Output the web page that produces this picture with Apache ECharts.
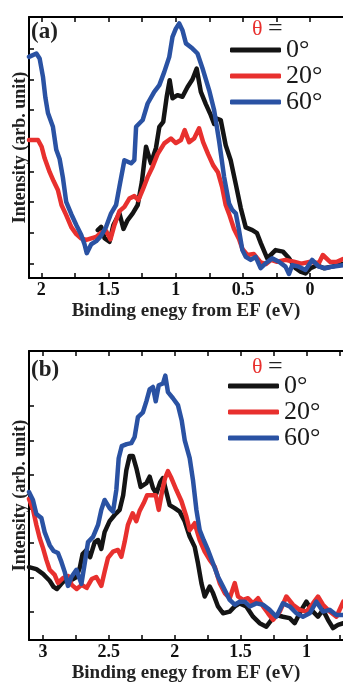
<!DOCTYPE html>
<html>
<head>
<meta charset="utf-8">
<script src="https://cdn.jsdelivr.net/npm/echarts@6/dist/echarts.min.js"></script>
<style>
html,body{margin:0;padding:0;background:#fff;}
#c{width:343px;height:684px;}
</style>
</head>
<body>
<div id="c"></div>
<script>
// ---------- DATA ----------
const seriesNames = ['0°', '20°', '60°'];

// panel (a): binding energy (eV) and intensity (arb. unit)
const aBlackE = [1.580,1.555,1.530,1.493,1.464,1.419,1.389,1.358,1.320,1.283,1.252,1.221,1.184,1.147,1.122,1.093,1.067,1.045,1.024,0.987,0.950,0.912,0.875,0.844,0.813,0.776,0.739,0.714,0.695,0.665,0.628,0.591,0.553,0.516,0.479,0.430,0.395,0.366,0.319,0.257,0.202,0.158,0.108,0.071,0.034,-0.003,-0.052,-0.102,-0.163,-0.245];
const aBlackI = [1.08,1.19,0.82,0.70,1.25,1.63,1.12,1.41,1.63,1.90,2.65,3.80,3.26,3.76,4.45,4.61,5.43,5.97,5.38,5.48,5.43,5.75,6.00,6.35,5.59,5.19,4.83,4.54,4.72,4.67,3.85,3.36,2.58,1.80,1.17,1.08,0.98,0.65,0.16,0.43,0.38,0.17,-0.16,-0.27,-0.33,-0.16,-0.06,-0.16,-0.11,-0.02];

const aRedE = [2.092,2.025,1.998,1.976,1.938,1.909,1.877,1.850,1.815,1.777,1.740,1.703,1.666,1.629,1.592,1.555,1.518,1.486,1.456,1.419,1.382,1.345,1.308,1.278,1.246,1.209,1.172,1.135,1.085,1.036,0.999,0.961,0.933,0.900,0.863,0.826,0.796,0.759,0.722,0.686,0.655,0.628,0.603,0.566,0.529,0.504,0.467,0.418,0.368,0.328,0.291,0.245,0.183,0.121,0.065,-0.003,-0.065,-0.095,-0.151,-0.200,-0.245];
const aRedI = [4.02,4.02,3.80,3.43,2.97,2.68,2.39,1.90,1.57,1.18,0.95,0.81,0.76,0.81,0.86,1.00,1.05,0.78,1.25,1.70,1.84,2.11,2.19,2.06,2.39,2.81,3.15,3.56,3.91,4.07,3.92,4.02,4.34,3.95,4.07,4.40,3.95,3.56,3.20,2.97,2.49,1.90,1.61,1.12,0.79,0.47,0.27,0.30,0.03,-0.02,0.11,0.05,0.11,0.05,-0.01,0.05,0.00,0.27,0.04,0.05,0.14];

const aBlueE = [2.092,2.037,2.013,1.988,1.970,1.951,1.914,1.889,1.864,1.840,1.815,1.777,1.740,1.703,1.679,1.662,1.629,1.592,1.555,1.518,1.481,1.444,1.419,1.382,1.332,1.308,1.295,1.246,1.209,1.160,1.122,1.085,1.048,1.024,0.999,0.974,0.950,0.924,0.875,0.838,0.801,0.751,0.714,0.677,0.640,0.603,0.579,0.553,0.529,0.504,0.479,0.442,0.405,0.368,0.331,0.282,0.232,0.183,0.157,0.133,0.084,0.034,-0.015,-0.065,-0.114,-0.163,-0.245];
const aBlueI = [6.73,6.84,6.68,6.08,5.40,4.90,4.45,3.70,3.40,2.80,2.00,1.60,1.25,0.92,0.62,0.33,0.62,0.72,0.90,1.19,1.63,1.90,2.50,3.36,3.26,3.36,4.45,4.67,5.21,5.59,5.81,6.24,6.73,7.38,7.65,7.82,7.60,7.17,7.00,6.84,6.36,5.64,4.99,3.98,2.82,1.95,1.74,1.63,1.08,0.43,0.21,0.11,0.21,-0.16,0.00,0.16,0.05,-0.11,-0.35,-0.06,-0.11,-0.22,0.11,-0.11,-0.16,-0.11,-0.06];

// panel (b)
const bBlackE = [3.106,3.050,3.000,2.949,2.919,2.894,2.860,2.822,2.784,2.746,2.721,2.699,2.670,2.642,2.607,2.582,2.557,2.532,2.494,2.456,2.418,2.391,2.367,2.342,2.317,2.291,2.258,2.215,2.190,2.165,2.139,2.110,2.089,2.063,2.038,2.000,1.962,1.924,1.886,1.848,1.823,1.797,1.772,1.734,1.709,1.671,1.633,1.582,1.544,1.506,1.456,1.405,1.355,1.304,1.265,1.228,1.178,1.127,1.089,1.038,1.000,0.962,0.912,0.874,0.836,0.798,0.760,0.720];
const bBlackI = [1.30,1.24,1.10,0.90,0.72,0.66,0.81,0.97,0.92,1.01,1.27,1.68,1.80,1.59,2.03,2.09,1.83,2.32,2.64,2.82,2.97,3.40,4.13,4.54,4.54,4.19,3.64,3.75,3.94,3.61,3.45,3.78,3.90,3.49,3.11,3.02,2.92,2.64,2.19,1.89,1.41,0.83,0.44,0.73,0.54,0.15,-0.05,0.00,0.15,0.24,0.15,-0.15,-0.34,-0.44,-0.24,-0.10,-0.15,-0.19,-0.34,0.05,0.29,0.05,-0.15,0.05,-0.24,-0.48,-0.39,-0.34];

const bRedE = [3.106,3.076,3.050,3.025,3.000,2.974,2.949,2.911,2.886,2.848,2.810,2.782,2.744,2.706,2.668,2.630,2.595,2.557,2.532,2.506,2.468,2.431,2.405,2.380,2.355,2.319,2.291,2.266,2.235,2.209,2.177,2.144,2.121,2.095,2.073,2.051,2.025,1.987,1.949,1.911,1.886,1.848,1.810,1.772,1.734,1.696,1.658,1.620,1.582,1.544,1.519,1.481,1.443,1.405,1.367,1.329,1.291,1.253,1.202,1.152,1.102,1.051,1.000,0.950,0.912,0.874,0.823,0.772,0.720];
const bRedI = [3.29,2.99,2.53,2.15,1.86,1.51,1.22,1.07,0.84,0.98,1.04,0.78,0.66,0.78,0.69,0.95,1.01,0.75,1.16,1.57,1.75,1.80,1.60,2.03,2.53,2.87,2.64,2.94,3.17,3.40,3.40,3.40,2.97,3.52,3.90,4.10,3.90,3.55,3.23,2.77,2.38,2.58,2.09,1.75,1.51,1.31,0.83,0.54,0.39,0.83,0.44,0.34,0.39,0.24,0.39,0.15,-0.05,-0.24,0.00,0.44,0.20,0.05,0.00,0.24,0.44,0.20,0.00,-0.15,0.29];

const bBlueE = [3.106,3.076,3.050,3.012,2.987,2.949,2.919,2.886,2.860,2.835,2.810,2.784,2.746,2.708,2.683,2.658,2.620,2.582,2.557,2.532,2.494,2.468,2.443,2.425,2.402,2.364,2.329,2.304,2.279,2.241,2.215,2.190,2.165,2.144,2.121,2.089,2.071,2.051,2.013,1.975,1.947,1.924,1.886,1.861,1.835,1.810,1.780,1.747,1.709,1.671,1.633,1.582,1.544,1.506,1.468,1.430,1.380,1.329,1.279,1.228,1.178,1.127,1.076,1.026,0.975,0.924,0.874,0.823,0.772,0.720];
const bBlueI = [3.49,3.26,2.85,2.73,2.32,1.94,1.77,1.71,1.45,1.16,0.75,1.01,1.22,0.81,1.41,2.03,2.18,2.53,2.97,3.26,3.02,2.92,3.55,4.48,4.83,4.89,4.92,5.10,5.68,5.82,6.14,6.49,6.56,6.14,6.61,6.66,6.89,6.41,6.23,6.03,5.59,5.01,4.48,3.84,2.97,2.38,2.09,1.80,1.41,1.02,0.73,0.34,0.20,0.29,0.29,0.15,0.24,0.20,0.05,-0.15,0.24,0.15,-0.05,-0.15,-0.05,0.29,0.00,0.05,-0.10,-0.10];

// axes
const aXRange = [-0.245, 2.092];
const bXRange = [0.722, 3.106];
const aYRange = [-0.48, 8.03];
const bYRange = [-0.83, 7.61];
const aXTicks = [0, 0.25, 0.5, 0.75, 1, 1.25, 1.5, 1.75, 2];
const aXLabels = [0, 0.5, 1, 1.5, 2];
const bXTicks = [0.75, 1, 1.25, 1.5, 1.75, 2, 2.25, 2.5, 2.75, 3];
const bXLabels = [1, 1.5, 2, 2.5, 3];
const aYTicks = [0, 1, 2, 3, 4, 5, 6, 7];
const bYTicks = [0, 1, 2, 3, 4, 5, 6];
const xTitle = 'Binding enegy from EF (eV)';
const yTitle = 'Intensity (arb. unit)';

// ---------- CHART ----------
const colors = ['#141414', '#e8302e', '#2a52a3'];
const FONT = 'Liberation Serif';
const zip = (e, i) => e.map((v, k) => [v, i[k]]);

function xAxisPair(gi, range, ticks, labels) {
  const base = {
    type: 'value', gridIndex: gi, inverse: true, min: range[0], max: range[1],
    splitLine: {show: false},
    axisLine: {show: true, onZero: false, lineStyle: {color: '#000', width: 2}},
    axisTick: {show: true, inside: true, length: 5, customValues: ticks, lineStyle: {color: '#000', width: 1.5}}
  };
  return [
    Object.assign({}, base, {
      position: 'bottom',
      axisLabel: {show: true, customValues: labels, margin: 3, color: '#111', fontFamily: FONT, fontWeight: 'bold', fontSize: 18},
      name: xTitle, nameLocation: 'middle', nameGap: 24,
      nameTextStyle: {fontFamily: FONT, fontWeight: 'bold', fontSize: 19, color: '#222'}
    }),
    Object.assign({}, base, {position: 'top', axisLabel: {show: false}})
  ];
}
function yAxisOf(gi, range, ticks) {
  return {
    type: 'value', gridIndex: gi, min: range[0], max: range[1], position: 'left',
    splitLine: {show: false},
    axisLine: {show: true, onZero: false, lineStyle: {color: '#000', width: 2}},
    axisTick: {show: true, inside: true, length: 5, customValues: ticks, lineStyle: {color: '#000', width: 1.5}},
    axisLabel: {show: false},
    name: yTitle, nameLocation: 'middle', nameGap: 0,
    nameTextStyle: {fontFamily: FONT, fontWeight: 'bold', fontSize: 18, color: '#222'}
  };
}
function line(name, gi, data, ci) {
  return {
    type: 'line', name: name, xAxisIndex: gi * 2, yAxisIndex: gi, data: data,
    showSymbol: false, symbol: 'none', color: colors[ci], clip: true,
    lineStyle: {width: 4.5, color: colors[ci], cap: 'round', join: 'round'},
    animation: false
  };
}
function legendOf(left, top, lh) {
  return {
    data: seriesNames,
    orient: 'vertical', left: left, top: top, padding: 0,
    itemGap: 0, itemWidth: 51, itemHeight: 5, icon: 'roundRect', selectedMode: false,
    formatter: '{s|{name}}',
    textStyle: {fontFamily: FONT, fontSize: 26, color: '#1a1a1a', lineHeight: lh,
      rich: {s: {fontFamily: FONT, fontSize: 26, fontWeight: 'normal', color: '#1a1a1a', lineHeight: lh}}}
  };
}
function thetaTitle(top) {
  return {
    text: '{t|θ} {e|=}', left: 252, top: top, padding: 0,
    textStyle: {fontFamily: FONT, fontWeight: 'normal', fontSize: 22, rich: {
      t: {fontFamily: FONT, fontSize: 22, fontWeight: 'normal', color: '#e8302e'},
      e: {fontFamily: FONT, fontSize: 26, fontWeight: 'normal', color: '#222'}
    }}
  };
}

const chart = echarts.init(document.getElementById('c'), null, {renderer: 'canvas'});
chart.setOption({
  animation: false,
  backgroundColor: '#fff',
  textStyle: {fontFamily: FONT},
  grid: [
    {left: 29, right: 0, top: 17, bottom: 406, containLabel: false},
    {left: 29, right: 0, top: 351, bottom: 44, containLabel: false}
  ],
  title: [
    {text: '(a)', left: 31, top: 21, padding: 0, textStyle: {fontFamily: FONT, fontSize: 23, fontWeight: 'bold', color: '#222'}},
    {text: '(b)', left: 31, top: 359, padding: 0, textStyle: {fontFamily: FONT, fontSize: 23, fontWeight: 'bold', color: '#222'}},
    thetaTitle(16),
    thetaTitle(354)
  ],
  legend: [legendOf(230, 37, 24), legendOf(228, 373, 26)],
  xAxis: [].concat(xAxisPair(0, aXRange, aXTicks, aXLabels), xAxisPair(1, bXRange, bXTicks, bXLabels)),
  yAxis: [yAxisOf(0, aYRange, aYTicks), yAxisOf(1, bYRange, bYTicks)],
  series: [
    line(seriesNames[0], 0, zip(aBlackE, aBlackI), 0),
    line(seriesNames[1], 0, zip(aRedE, aRedI), 1),
    line(seriesNames[2], 0, zip(aBlueE, aBlueI), 2),
    line(seriesNames[0], 1, zip(bBlackE, bBlackI), 0),
    line(seriesNames[1], 1, zip(bRedE, bRedI), 1),
    line(seriesNames[2], 1, zip(bBlueE, bBlueI), 2)
  ]
});
</script>
</body>
</html>
